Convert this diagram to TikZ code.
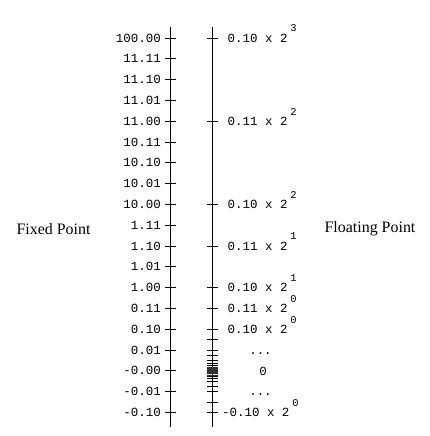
\documentclass[tikz,border=0pt]{standalone}
\usepackage{fontspec}
\setmainfont{Liberation Serif}
\newfontfamily\monofont{Liberation Mono}
\begin{document}
\begin{tikzpicture}[x=1bp,y=1bp,
  axisline/.style={line width=1.1bp,black},
  tickline/.style={line width=0.9bp,black},
  thintick/.style={line width=0.6bp,black!80},
  fixlab/.style={anchor=base east,inner sep=0pt,font=\monofont\fontsize{12.5}{14}\selectfont},
  flolab/.style={anchor=base west,inner sep=0pt,font=\monofont\fontsize{12.5}{14}\selectfont},
  suplab/.style={anchor=base west,inner sep=0pt,font=\monofont\fontsize{10.5}{12}\selectfont},
  midlab/.style={anchor=base,inner sep=0pt,font=\monofont\fontsize{12.5}{14}\selectfont},
  title/.style={inner sep=0pt,font=\fontsize{16}{18}\selectfont}]
\useasboundingbox (0,0) rectangle (429,436);
% axes
\coordinate (fixtop) at (170.3,409);
\coordinate (fixbot) at (170.3,9);
\coordinate (flotop) at (212.3,409);
\coordinate (flobot) at (212.3,9);
\draw[axisline] (fixtop) -- (fixbot);
\draw[axisline] (flotop) -- (flobot);
% fixed ticks and labels
\foreach \lab [count=\i from 0] in {100.00,11.11,11.10,11.01,11.00,10.11,10.10,10.01,10.00,1.11,1.10,1.01,1.00,0.11,0.10,0.01,-0.00,-0.01,-0.10}{
  \pgfmathsetmacro{\yy}{398-20.8*\i}
  \draw[tickline] (164.8,\yy) -- (175.8,\yy);
  \node[fixlab] (fx\i) at (161,\yy-4.2) {\lab};
}
% floating ticks
\foreach \v in {4,3,2,1.5,1}{
  \pgfmathsetmacro{\yy}{65+83.2*\v}
  \draw[tickline] (206.8,\yy) -- (217.8,\yy);
}
\foreach \k in {0,...,3}{
  \pgfmathsetmacro{\ya}{65+83.2*0.5*2^(-\k)}
  \pgfmathsetmacro{\yb}{65+83.2*0.75*2^(-\k)}
  \pgfmathsetmacro{\yc}{65-83.2*0.5*2^(-\k)}
  \draw[tickline] (206.8,\ya) -- (217.8,\ya);
  \draw[tickline] (206.8,\yb) -- (217.8,\yb);
  \draw[tickline] (206.8,\yc) -- (217.8,\yc);
}
\foreach \k in {1,...,3}{
  \pgfmathsetmacro{\yd}{65-83.2*0.75*2^(-\k)}
  \draw[tickline] (206.8,\yd) -- (217.8,\yd);
}
\foreach \k in {4,...,6}{
  \pgfmathsetmacro{\ya}{65+83.2*0.5*2^(-\k)}
  \pgfmathsetmacro{\yb}{65+83.2*0.75*2^(-\k)}
  \pgfmathsetmacro{\yc}{65-83.2*0.5*2^(-\k)}
  \pgfmathsetmacro{\yd}{65-83.2*0.75*2^(-\k)}
  \draw[thintick] (206.8,\ya) -- (217.8,\ya);
  \draw[thintick] (206.8,\yb) -- (217.8,\yb);
  \draw[thintick] (206.8,\yc) -- (217.8,\yc);
  \draw[thintick] (206.8,\yd) -- (217.8,\yd);
}
% floating labels
\foreach \m/\e/\v [count=\j] in {0.10/3/4,0.11/2/3,0.10/2/2,0.11/1/1.5,0.10/1/1,0.11/0/0.75,0.10/0/0.5}{
  \pgfmathsetmacro{\yy}{65+83.2*\v}
  \node[flolab] (fl\j) at (227.5,\yy-4.2) {\m{} x 2};
  \node[suplab] (fe\j) at ([xshift=2.5bp,yshift=10.5bp]fl\j.base east) {\e};
}
\node[midlab] (dotsa) at (260.5,65+20.8-4.2) {...};
\node[midlab] (zero) at (263,65-4.2) {0};
\node[midlab] (dotsb) at (260.5,65-20.8-4.2) {...};
\node[flolab] (fl8) at (222,65-41.6-4.2) {-0.10 x 2};
\node[suplab] (fe8) at ([xshift=2.5bp,yshift=10.5bp]fl8.base east) {0};
% titles
\node[title] (fixtitle) at (53.5,207) {Fixed Point};
\node[title] (flotitle) at (370,207) {Floating Point};
\end{tikzpicture}
\end{document}
